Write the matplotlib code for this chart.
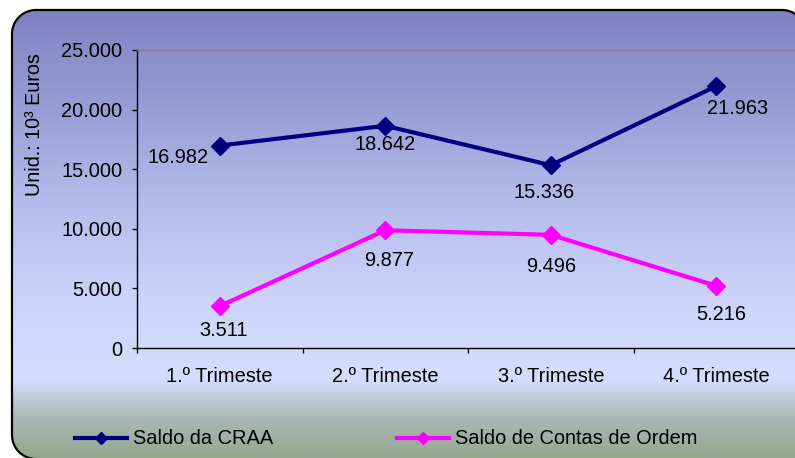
import numpy as np
import matplotlib
matplotlib.use("Agg")
import matplotlib.pyplot as plt
from matplotlib.patches import PathPatch
from matplotlib.path import Path
from matplotlib.ticker import FuncFormatter

plt.rcParams["font.family"] = ["Liberation Sans", "DejaVu Sans"]

# Quarterly balances (thousand euros)
quarters = ["1.º Trimeste", "2.º Trimeste", "3.º Trimeste", "4.º Trimeste"]
saldo_craa = [16982, 18642, 15336, 21963]
saldo_contas_ordem = [3511, 9877, 9496, 5216]
y_ticks = [0, 5000, 10000, 15000, 20000, 25000]

# Label placement relative to each point (pixels)
craa_offsets = [(-42, -12), (0, -19), (-7, -27), (21, -22)]
ordem_offsets = [(4, -24), (4, -30), (0, -32), (5, -29)]

W, H, DPI = 795, 458, 100
FS = 14.4
fig = plt.figure(figsize=(W / DPI, H / DPI), dpi=DPI)
fig.patch.set_facecolor("white")

# Background panel with vertical gradient and rounded border
bg = fig.add_axes([0, 0, 1, 1])
bg.set_xlim(0, W)
bg.set_ylim(H, 0)
bg.axis("off")
stops_y = [10, 100, 200, 300, 380, 400, 420, 457]
stops_c = np.array([
    (128, 130, 192), (150, 155, 211), (180, 187, 235), (204, 212, 250),
    (212, 222, 252), (190, 200, 214), (170, 183, 180), (148, 168, 140)
]) / 255.0
rows = np.arange(H)
grad = np.stack([np.interp(rows, stops_y, stops_c[:, k]) for k in range(3)], axis=1)
img = np.repeat(grad[:, None, :], 2, axis=1)

# Panel outline: rounded left corners and top-right corner
x0, y0, x1, y1, r = 12, 10, 806, 459, 24
a = np.linspace(0, np.pi / 2, 20)
bl = list(zip(x0 + r - r * np.sin(a[::-1]), y1 - r + r * np.cos(a[::-1])))[::-1]
tl = list(zip(x0 + r - r * np.cos(a), y0 + r - r * np.sin(a)))
tr = list(zip(x1 - r + r * np.sin(a), y0 + r - r * np.cos(a)))
outline = bl + tl + tr
closed = outline + [(x1 + 5, y1 + 5), outline[0]]
panel = PathPatch(Path(closed, closed=True), facecolor="none", edgecolor="none")
bg.add_patch(panel)
im = bg.imshow(img, extent=(0, W, H, 0), aspect="auto", zorder=1,
               interpolation="bilinear")
im.set_clip_path(panel)
ox, oy = zip(*outline)
bg.plot(ox, oy, color="black", lw=1.6, zorder=3, solid_joinstyle="round")

# Main chart area
left, right, top, bottom = 137, 799, 50, 348
ax = fig.add_axes([left / W, 1 - bottom / H, (right - left) / W, (bottom - top) / H])
ax.set_facecolor("none")
x = np.arange(1, len(quarters) + 1)

ax.plot(x, saldo_craa, color="#000080", lw=3, marker="D", ms=9,
        label="Saldo da CRAA", zorder=4, clip_on=False)
ax.plot(x, saldo_contas_ordem, color="#FF00FF", lw=3, marker="D", ms=9,
        label="Saldo de Contas de Ordem", zorder=4, clip_on=False)

fmt = lambda v: f"{v:,.0f}".replace(",", ".")
for xi, v, off in zip(x, saldo_craa, craa_offsets):
    ax.annotate(fmt(v), (xi, v), xytext=off, textcoords="offset pixels",
                ha="center", va="center", fontsize=FS, color="black")
for xi, v, off in zip(x, saldo_contas_ordem, ordem_offsets):
    ax.annotate(fmt(v), (xi, v), xytext=off, textcoords="offset pixels",
                ha="center", va="center", fontsize=FS, color="black")

ax.set_xlim(0.5, len(quarters) + 0.5)
ax.set_ylim(0, 25000)
ax.set_yticks(y_ticks)
ax.yaxis.set_major_formatter(FuncFormatter(lambda v, p: fmt(v)))
ax.tick_params(axis="y", direction="out", length=3.6, width=1, pad=7,
               labelsize=FS, colors="black")
ax.set_xticks(x)
ax.set_xticklabels(quarters)
ax.set_xticks(np.arange(0.5, len(quarters) + 0.5, 1), minor=True)
ax.tick_params(axis="x", which="major", length=0, pad=14, labelsize=FS)
ax.tick_params(axis="x", which="minor", direction="out", length=3.6, width=1)

for s in ("left", "bottom"):
    ax.spines[s].set_color("black")
    ax.spines[s].set_linewidth(1)
ax.spines["top"].set_color("#808080")
ax.spines["top"].set_linewidth(1)
ax.spines["right"].set_visible(False)

fig.text(35 / W, 1 - 125 / H, "Unid.: 10³ Euros", rotation=90,
         ha="center", va="center", fontsize=14.2)

leg = ax.legend(loc="center left", bbox_to_anchor=(75 / W, 1 - 439 / H),
                bbox_transform=fig.transFigure, ncol=2, frameon=False,
                fontsize=FS, handlelength=2.6, handletextpad=0.3,
                columnspacing=6.2, markerscale=0.65, borderpad=0,
                borderaxespad=0)

fig.savefig("out.png", dpi=DPI)
